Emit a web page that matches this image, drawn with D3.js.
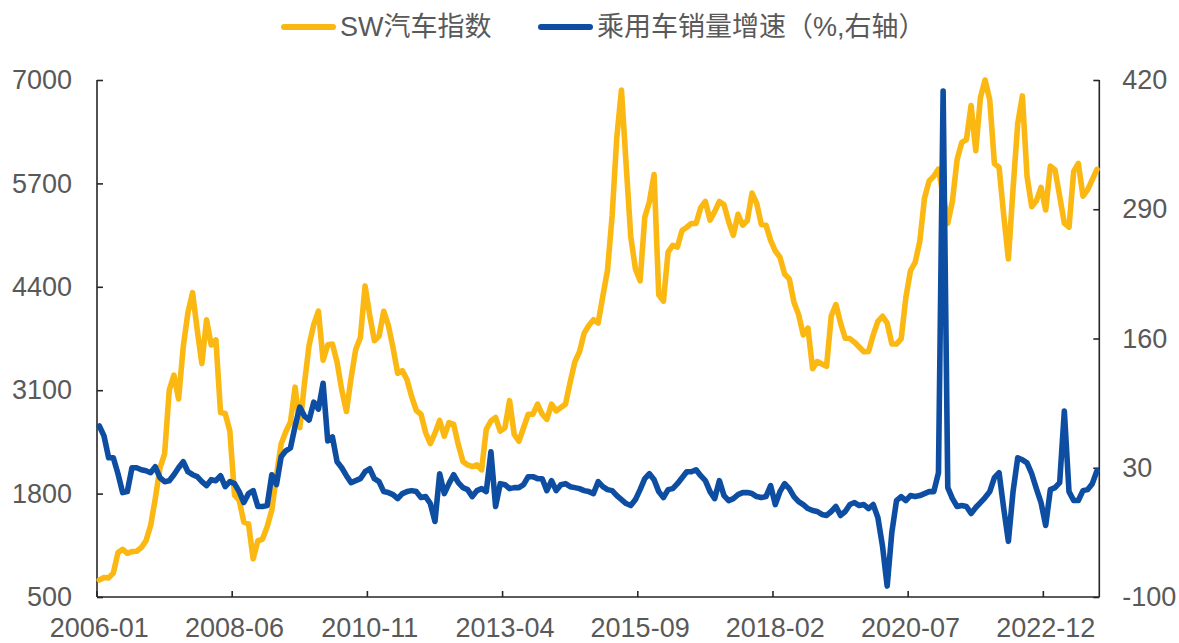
<!DOCTYPE html>
<html>
<head>
<meta charset="utf-8">
<script src="https://cdn.jsdelivr.net/npm/d3@7"></script>
<style>
  body { margin: 0; background: #fff; }
  svg text { font-family: "Liberation Sans", Arial, "Noto Sans CJK SC", sans-serif; fill: #595959; }
</style>
</head>
<body>
<svg id="chart" width="1179" height="643"></svg>
<script>
// Monthly categories, 2006-01 through 2023-11
const months = d3.timeMonth.range(new Date(2006, 0, 1), new Date(2023, 11, 1)).map(d3.timeFormat("%Y-%m"));

// SW auto index (left axis)
const swAuto = [
  715, 745, 740, 800, 1058, 1100, 1050, 1070, 1075, 1121, 1206, 1397, 1737, 2119, 2300, 3100,
  3290, 2990, 3647, 4071, 4326, 3859, 3435, 3986, 3668, 3732, 2820, 2807, 2586, 1780, 1716, 1440,
  1419, 980, 1206, 1228, 1384, 1593, 2030, 2424, 2577, 2700, 3138, 2628, 3184, 3668, 3927, 4093,
  3477, 3672, 3681, 3452, 3104, 2832, 3252, 3613, 3762, 4411, 4042, 3723, 3778, 4093, 3914, 3634,
  3312, 3346, 3231, 3019, 2845, 2798, 2565, 2429, 2560, 2720, 2522, 2692, 2671, 2416, 2204, 2161,
  2140, 2161, 2098, 2607, 2713, 2756, 2586, 2628, 2968, 2543, 2458, 2628, 2798, 2798, 2925, 2798,
  2734, 2925, 2840, 2883, 2925, 3201, 3456, 3583, 3817, 3914, 3986, 3944, 4280, 4606, 5294, 6278,
  6873, 5939, 5026, 4623, 4475, 5273, 5472, 5812, 4300, 4220, 4835, 4920, 4899, 5107, 5149, 5196,
  5196, 5395, 5472, 5239, 5345, 5472, 5430, 5217, 5048, 5311, 5175, 5234, 5578, 5451, 5183, 5175,
  4984, 4850, 4772, 4560, 4500, 4207, 4050, 3795, 3880, 3370, 3460, 3430, 3400, 4033, 4177, 3944,
  3753, 3749, 3702, 3643, 3583, 3587, 3795, 3965, 4029, 3944, 3681, 3681, 3745, 4262, 4602, 4708,
  4971, 5514, 5730, 5790, 5880, 5550, 5200, 5480, 6000, 6215, 6250, 6680, 6110, 6780, 7000, 6750,
  5950, 5900, 5300, 4750, 5634, 6450, 6800, 5790, 5408, 5481, 5650, 5366, 5918, 5870, 5540, 5200,
  5150, 5850, 5950, 5540, 5620, 5748, 5876
];

// Passenger car sales growth, % (right axis)
const salesGrowth = [
  72, 62, 40, 40, 24, 5, 6, 30, 30, 28, 27, 25, 31, 20, 16, 17,
  23, 30, 36, 26, 23, 21, 16, 12, 18, 17, 22, 11, 16, 14, 6, -5,
  4, 7, -9, -9, -8, 23, 13, 41, 47, 50, 72, 91, 82, 78, 96, 89,
  115, 57, 61, 36, 30, 22, 15, 17, 19, 26, 29, 19, 16, 6, 5, 3,
  -1, 4, 6, 7, 6, 0, 1, -6, -24, 24, 4, 14, 23, 15, 10, 8,
  1, 7, 9, 6, 46, -9, 14, 13, 9, 10, 10, 13, 21, 21, 19, 19,
  7, 17, 7, 13, 14, 11, 10, 9, 7, 6, 4, 16, 11, 8, 7, 2,
  -2, -6, -8, -2, 8, 19, 24, 18, 6, 0, 8, 9, 14, 20, 26, 26,
  28, 22, 17, 6, -1, 17, 2, -3, -1, 3, 5, 5, 4, 1, 0, 1,
  12, -7, 6, 14, 9, 1, -4, -7, -11, -13, -14, -17, -18, -14, -9, -18,
  -14, -7, -5, -8, -7, -11, -7, -20, -49, -89, -35, -3, 1, -3, 2, 1,
  2, 4, 6, 6, 25, 409, 10, -1, -9, -8, -9, -16, -10, -5, 0, 6,
  20, 25, -11, -44, 6, 40, 38, 35, 24, 9, -5, -28, 8, 10, 15, 87,
  6, -3, -3, 7, 8, 14, 27
];

const xTickLabels = ["2006-01", "2008-06", "2010-11", "2013-04", "2015-09", "2018-02", "2020-07", "2022-12"];
const leftTicks = [500, 1800, 3100, 4400, 5700, 7000];
const rightTicks = [-100, 30, 160, 290, 420];

const seriesNames = ["SW汽车指数", "乘用车销量增速（%,右轴）"];
const colors = ["#FBB812", "#0D4EA3"];

const plot = { left: 97, right: 1099.3, top: 80, bottom: 597 };
const svg = d3.select("#chart");

// One band per month; each point sits at the centre of its band
const x = d3.scaleBand().domain(months).range([plot.left, plot.right]).paddingInner(0).paddingOuter(0);
const cx = m => x(m) + x.bandwidth() / 2;
const yL = d3.scaleLinear().domain([500, 7000]).range([plot.bottom, plot.top]);
const yR = d3.scaleLinear().domain([-100, 420]).range([plot.bottom, plot.top]);

const axisFont = 27;
const fmt = d => String(d);

// Left axis
const gL = svg.append("g").attr("transform", `translate(${plot.left},0)`)
  .call(d3.axisLeft(yL).tickValues(leftTicks).tickSize(-6).tickPadding(25).tickFormat(fmt));
// Right axis
const gR = svg.append("g").attr("transform", `translate(${plot.right},0)`)
  .call(d3.axisRight(yR).tickValues(rightTicks).tickSize(-6).tickPadding(23).tickFormat(fmt));
// Bottom axis: tick marks on band boundaries, labels centred on their month
const gB = svg.append("g").attr("transform", `translate(0,${plot.bottom})`)
  .call(d3.axisBottom(x).tickValues(xTickLabels).tickSize(-6).tickPadding(0).offset(0));
gB.selectAll(".tick").attr("transform", d => `translate(${x(d)},0)`);
gB.selectAll(".tick text").attr("x", x.bandwidth() / 2).attr("y", 30.5).attr("dy", "0.35em");

[gL, gR, gB].forEach(g => {
  g.select(".domain").attr("stroke", "#262626").attr("stroke-width", 1.6);
  g.selectAll(".tick line").attr("stroke", "#262626").attr("stroke-width", 1.6);
  g.selectAll(".tick text").attr("font-size", axisFont).attr("fill", "#595959");
});
gB.select(".domain").attr("d", `M${plot.left},0H${plot.right}`);
gL.select(".domain").attr("d", `M0,${plot.bottom}V${plot.top}`);
gR.select(".domain").attr("d", `M0,${plot.bottom}V${plot.top}`);

// Lines
const lineL = d3.line().x((d, i) => cx(months[i])).y(d => yL(d));
const lineR = d3.line().x((d, i) => cx(months[i])).y(d => yR(d));

svg.append("path").datum(swAuto)
  .attr("fill", "none").attr("stroke", colors[0]).attr("stroke-width", 5.6)
  .attr("stroke-linejoin", "round").attr("stroke-linecap", "round")
  .attr("d", lineL);

svg.append("path").datum(salesGrowth)
  .attr("fill", "none").attr("stroke", colors[1]).attr("stroke-width", 5.6)
  .attr("stroke-linejoin", "round").attr("stroke-linecap", "round")
  .attr("d", lineR);

// Legend
const legend = svg.append("g").attr("font-size", 27);
const legendItems = [
  { name: seriesNames[0], color: colors[0], x: 284 },
  { name: seriesNames[1], color: colors[1], x: 541 }
];
legendItems.forEach(it => {
  legend.append("line").attr("x1", it.x).attr("x2", it.x + 49).attr("y1", 27).attr("y2", 27)
    .attr("stroke", it.color).attr("stroke-width", 6).attr("stroke-linecap", "round");
  legend.append("text").attr("x", it.x + 56).attr("y", 27).attr("dy", "0.35em")
    .attr("font-family", "'Liberation Sans', 'Noto Sans CJK SC', sans-serif")
    .attr("fill", "#595959").text(it.name);
});
</script>
</body>
</html>
